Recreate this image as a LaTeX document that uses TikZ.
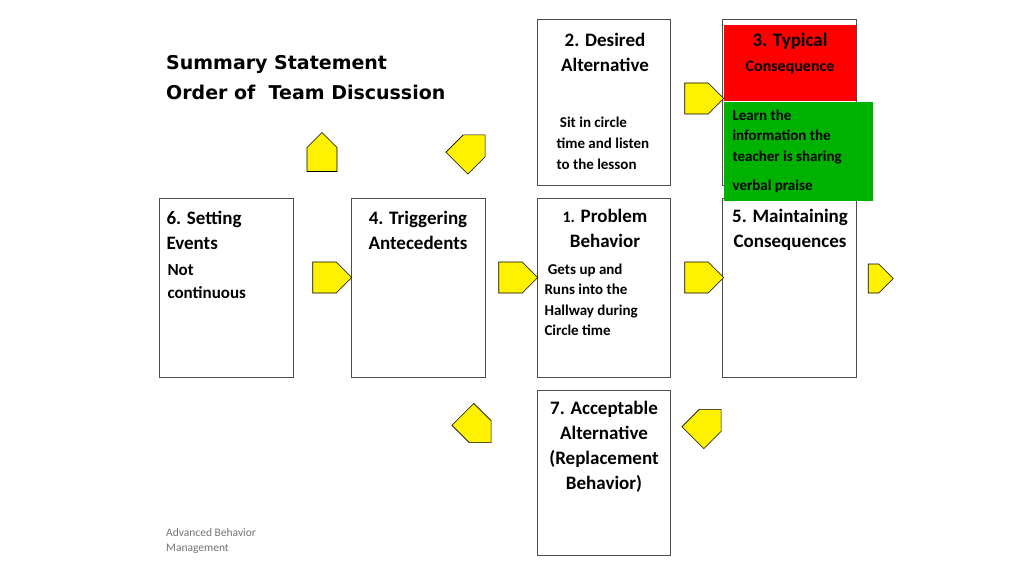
\documentclass[tikz,border=0pt]{standalone}
\usepackage{fontspec}
\setmainfont{Carlito}
\newfontfamily\titlefont{DejaVu Sans}
\usetikzlibrary{shapes.arrows}
\begin{document}
\begin{tikzpicture}[x=1pt,y=-1pt,
  box/.style={draw=black!70,line width=0.8pt,anchor=north west,inner sep=0pt},
  yarr/.style={single arrow,draw=black,fill=yellow,line width=0.6pt,minimum height=39pt,minimum width=31pt,single arrow head extend=0pt,inner sep=3pt,single arrow tip angle=90},
  head/.style={font=\fontsize{19}{25}\selectfont\bfseries,align=center,anchor=north},
  body/.style={font=\fontsize{15}{21}\selectfont\bfseries,align=left,anchor=north west}]
\useasboundingbox[fill=white] (0,0) rectangle (1024,575);
% boxes
\node[box,minimum width=134pt,minimum height=179pt] (b6) at (159,198) {};
\node[box,minimum width=134pt,minimum height=179pt] (b4) at (351,198) {};
\node[box,minimum width=133pt,minimum height=179pt] (b1) at (537,198) {};
\node[box,minimum width=134pt,minimum height=179pt] (b5) at (722,198) {};
\node[box,minimum width=133pt,minimum height=166pt] (b2) at (537,19) {};
\node[box,minimum width=134pt,minimum height=166pt] (b3) at (722,19) {};
\node[box,minimum width=133pt,minimum height=165pt] (b7) at (537,390) {};
\node[anchor=north west,fill=red,minimum width=132pt,minimum height=76pt,inner sep=0pt] (red) at (724,25) {};
\node[anchor=north west,fill=green!65!black,fill=green!70!black,minimum width=149pt,minimum height=99pt,inner sep=0pt] (grn) at (724,102) {};
% texts
\node[anchor=north west,font=\titlefont\fontsize{19}{30}\selectfont\bfseries,align=left,inner sep=0pt] (title) at (166,55) {Summary Statement\\Order of~ Team Discussion};
\node[head] (t2) at (605,30) {2. Desired\\Alternative};
\node[body,font=\fontsize{15}{21}\selectfont\bfseries] (s2) at (553,113) {~Sit in circle\\time and listen\\to the lesson};
\node[head] (t3) at (790,30) {3. Typical};
\node[font=\fontsize{16}{20}\selectfont\bfseries,anchor=north] (c3) at (790,57) {Consequence};
\node[body,font=\fontsize{15}{20.5}\selectfont\bfseries] (g1) at (729,106) {Learn the\\information the\\teacher is sharing};
\node[body] (g2) at (729,176) {verbal praise};
\node[head,anchor=north west,align=left] (t6) at (163,208) {6. Setting\\Events};
\node[body,font=\fontsize{17}{23}\selectfont\bfseries] (s6) at (164,261) {Not\\continuous};
\node[head] (t4) at (418,208) {4. Triggering\\Antecedents};
\node[head] (t1) at (605,206) {{\fontsize{16}{20}\selectfont 1.} Problem\\Behavior};
\node[body,font=\fontsize{15}{20.5}\selectfont\bfseries] (s1) at (541,260) {~Gets up and\\Runs into the\\Hallway during\\Circle time};
\node[head] (t5) at (790,206) {5. Maintaining\\Consequences};
\node[head] (t7) at (604,398) {7. Acceptable\\Alternative\\(Replacement\\Behavior)};
\node[anchor=north west,font=\fontsize{11.5}{15}\selectfont,text=black!55,align=left,inner sep=0pt] (foot) at (166,528) {Advanced Behavior\\Management};
% arrows
\node[yarr] (a1) at (324.5,277.5) {};
\node[yarr] (a2) at (510.5,277.5) {};
\node[yarr] (a3) at (696.5,277.5) {};
\node[yarr,minimum height=25pt,minimum width=29pt] (a4) at (873.5,278.5) {};
\node[yarr] (a5) at (696.5,98.5) {};
\node[yarr,rotate=90,minimum width=30pt] (a6) at (322,159.5) {};
\node[yarr,rotate=45,minimum height=40pt] (a7) at (465.5,154.5) {};
\node[yarr,rotate=-45,minimum height=40pt] (a8) at (471.5,423) {};
\node[yarr,rotate=45,minimum height=40pt] (a9) at (701.5,429) {};
\end{tikzpicture}
\end{document}
